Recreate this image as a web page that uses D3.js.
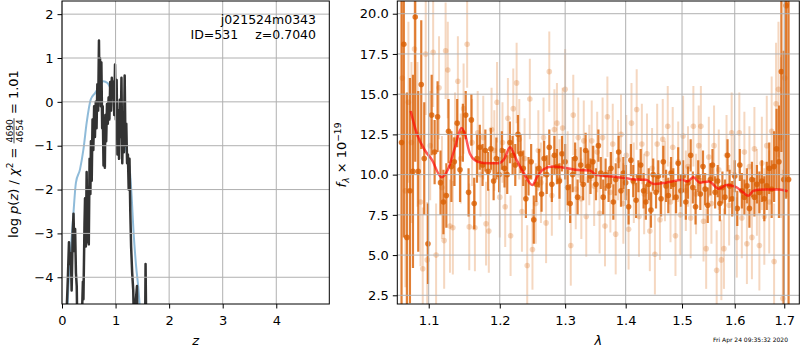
<!DOCTYPE html>
<html>
<head>
<meta charset="utf-8">
<script src="https://cdn.jsdelivr.net/npm/d3@7"></script>
<style>
  body { margin: 0; background: #fff; }
  text { font-family: "DejaVu Sans", sans-serif; }
</style>
</head>
<body>
<script>
// ---- left panel: p(z) ----
const zGrid = [0.08, 0.11, 0.13, 0.15, 0.165, 0.18, 0.20, 0.215, 0.23, 0.245, 0.26, 0.275, 0.29, 0.33, 0.37, 0.39, 0.40, 0.42, 0.43, 0.445,
  0.46, 0.475, 0.49, 0.50, 0.515, 0.53, 0.54, 0.555, 0.57, 0.585, 0.60, 0.615, 0.63, 0.645, 0.66, 0.675, 0.69, 0.70, 0.71, 0.725,
  0.735, 0.75, 0.76, 0.775, 0.785, 0.80, 0.81, 0.825, 0.84, 0.855, 0.87, 0.885, 0.90, 0.915, 0.93, 0.945, 0.96, 0.975, 0.99, 1.005,
  1.02, 1.035, 1.05, 1.065, 1.08, 1.095, 1.11, 1.125, 1.14, 1.155, 1.17, 1.185, 1.20, 1.215, 1.23, 1.245, 1.26, 1.275, 1.29, 1.31,
  1.33, 1.35, 1.38, 1.40, 1.41, 1.55, 1.56, 1.575];
const logpz = [-5.0, -4.0, -3.2, -3.7, -3.45, -4.3, -3.0, -2.55, -3.4, -2.9, -3.9, -4.2, -5.5, -5.5, -5.0, -4.1, -4.5, -2.8, -2.2, -3.3,
  -1.6, -3.2, -2.4, -3.25, -1.3, -2.1, -0.9, -1.8, -0.4, -1.1, -0.1, -0.8, 0.0, -0.6, 0.4, -0.2, 1.4, 0.3, 1.0, -0.1,
  0.9, -0.6, -0.1, -1.45, -0.5, -1.5, -0.3, -0.9, -0.05, -0.5, 0.1, -0.4, 0.45, -0.2, 0.55, 0.1, 0.45, -0.3, 0.85, -0.4,
  0.5, -1.2, -0.2, -1.3, 0.05, -0.8, 0.55, -1.4, -0.4, -1.15, 0.6, -1.0, -0.5, -1.4, -1.2, -2.0, -1.3, -2.5, -3.3, -3.9,
  -4.3, -5.5, -4.5, -4.2, -5.5, -5.5, -3.7, -5.5];
const zSmooth = [0.09, 0.12, 0.15, 0.18, 0.21, 0.26, 0.336, 0.40, 0.46, 0.536, 0.617, 0.70, 0.77, 0.85, 0.91, 0.97, 1.03, 1.115, 1.21, 1.27,
  1.30, 1.333, 1.383, 1.427, 1.47];
const logpSmooth = [-5.0, -4.2, -3.66, -3.1, -2.6, -1.84, -1.54, -1.085, -0.48, 0.05, 0.20, 0.355, 0.47, 0.43, 0.28, 0.015, -0.33, -0.71, -1.16, -1.62,
  -2.15, -2.91, -3.74, -4.27, -5.0];
const zTicks = [0, 1, 2, 3, 4];
const pzTicks = [-4, -3, -2, -1, 0, 1, 2];

// ---- right panel: spectrum ----
const lamDark = [1.064, 1.067, 1.071, 1.075, 1.079, 1.082, 1.086, 1.090, 1.094, 1.099, 1.104, 1.108, 1.112, 1.116, 1.120, 1.124, 1.127, 1.131, 1.135, 1.139,
  1.143, 1.147, 1.151, 1.155, 1.159, 1.163, 1.167, 1.171, 1.175, 1.179, 1.183, 1.187, 1.191, 1.195, 1.199, 1.203, 1.207, 1.211, 1.215, 1.219,
  1.223, 1.227, 1.231, 1.235, 1.239, 1.243, 1.247, 1.251, 1.255, 1.259, 1.263, 1.267, 1.271, 1.275, 1.279, 1.283, 1.287, 1.291, 1.295, 1.300,
  1.304, 1.308, 1.312, 1.316, 1.320, 1.325, 1.329, 1.333, 1.337, 1.341, 1.345, 1.350, 1.354, 1.358, 1.362, 1.366, 1.371, 1.375, 1.379, 1.383,
  1.388, 1.392, 1.396, 1.400, 1.405, 1.409, 1.413, 1.418, 1.422, 1.426, 1.431, 1.435, 1.440, 1.444, 1.448, 1.453, 1.457, 1.462, 1.466, 1.471,
  1.475, 1.480, 1.484, 1.489, 1.493, 1.498, 1.502, 1.507, 1.511, 1.516, 1.520, 1.525, 1.530, 1.534, 1.539, 1.543, 1.548, 1.553, 1.557, 1.562,
  1.567, 1.571, 1.576, 1.581, 1.586, 1.590, 1.595, 1.600, 1.605, 1.610, 1.614, 1.619, 1.624, 1.629, 1.634, 1.639, 1.644, 1.649, 1.654, 1.659,
  1.664, 1.669, 1.674, 1.679, 1.684, 1.689, 1.694, 1.699, 1.704, 1.709];
const fluxDark = [12.0, 18.1, 6.1, 9.0, 10.2, 19.8, 10.2, 15.6, 11.0, 5.7, 13.7, 11.4, 13.6, 9.5, 8.3, 8.7, 12.7, 10.5, 10.8, 13.2,
  10.3, 12.6, 13.7, 8.9, 13.4, 8.2, 11.0, 11.7, 10.6, 11.5, 10.2, 11.6, 9.6, 11.0, 10.0, 11.5, 10.4, 10.0, 12.0, 11.2,
  10.6, 12.5, 11.3, 10.4, 8.5, 9.9, 10.8, 7.2, 9.4, 10.4, 8.8, 11.0, 10.0, 11.7, 9.4, 11.2, 10.5, 9.6, 11.3, 10.8,
  9.2, 8.2, 10.0, 11.0, 8.6, 10.6, 9.4, 11.5, 10.5, 9.9, 10.8, 9.4, 11.8, 10.1, 8.6, 10.0, 9.3, 10.4, 8.3, 9.7,
  11.4, 9.0, 10.1, 9.5, 8.0, 10.9, 9.6, 8.4, 9.9, 10.6, 9.0, 8.3, 9.4, 7.8, 10.0, 8.9, 9.9, 8.5, 10.8, 9.3,
  8.7, 10.1, 9.4, 8.6, 10.7, 9.0, 9.9, 8.3, 9.5, 11.2, 9.2, 8.0, 9.9, 8.8, 10.5, 9.1, 8.1, 9.7, 10.6, 8.9,
  9.6, 8.2, 9.2, 8.6, 11.2, 9.3, 8.5, 9.9, 7.9, 10.6, 9.0, 8.6, 9.3, 7.9, 9.7, 8.6, 9.4, 8.9, 9.6, 8.5,
  9.3, 10.4, 9.1, 10.5, 11.6, 10.8, 16.4, 9.7, 20.5, 9.7];
const errDark = [15, 12, 9, 7, 6, 9, 5, 4, 3.5, 2.5, 2.5, 2, 2.2, 2, 2, 2, 2, 2.2, 1.5, 1.5,
  2, 1.8, 1.5, 1.5, 1.6, 1.6, 1.5, 1.4, 1.3, 1.3, 1.2, 1.3, 1.2, 1.3, 1.1, 1.2, 1.2, 1.2, 1.3, 1.2,
  1.3, 1.2, 1.2, 1.1, 1.2, 1.2, 1.1, 1.5, 1.1, 1.2, 1.1, 1.1, 1.2, 1.1, 1.1, 1.2, 1.1, 1.1, 1.1, 1.1,
  1.1, 1.2, 1.1, 1.0, 1.1, 1.1, 1.0, 1.1, 1.0, 1.1, 1.0, 1.0, 1.0, 1.0, 1.1, 1.0, 1.0, 1.0, 1.1, 1.0,
  1.0, 1.0, 1.0, 1.1, 1.1, 1.0, 1.0, 1.1, 1.0, 1.0, 1.1, 1.1, 1.0, 1.1, 1.0, 1.0, 1.0, 1.1, 1.0, 1.0,
  1.1, 1.0, 1.0, 1.0, 1.0, 1.0, 1.0, 1.1, 1.0, 1.0, 1.0, 1.1, 1.0, 1.0, 1.0, 1.0, 1.1, 1.0, 1.0, 1.0,
  1.0, 1.1, 1.0, 1.1, 1.0, 1.0, 1.1, 1.0, 1.1, 1.0, 1.1, 1.1, 1.1, 1.2, 1.1, 1.2, 1.2, 1.3, 1.3, 1.4,
  1.5, 1.6, 1.8, 2.2, 2.5, 3.5, 5, 8, 12, 14];

const lamLight = [1.065, 1.069, 1.073, 1.077, 1.081, 1.085, 1.089, 1.092, 1.096, 1.098, 1.102, 1.106, 1.110, 1.114, 1.118, 1.121, 1.123, 1.126, 1.129, 1.133,
  1.136, 1.140, 1.144, 1.148, 1.153, 1.156, 1.160, 1.164, 1.168, 1.172, 1.176, 1.180, 1.184, 1.188, 1.192, 1.196, 1.200, 1.204, 1.208, 1.212,
  1.216, 1.220, 1.225, 1.229, 1.233, 1.237, 1.241, 1.245, 1.249, 1.254, 1.258, 1.262, 1.266, 1.270, 1.275, 1.279, 1.283, 1.287, 1.291, 1.296,
  1.300, 1.304, 1.309, 1.313, 1.317, 1.321, 1.326, 1.330, 1.334, 1.339, 1.343, 1.347, 1.352, 1.356, 1.361, 1.365, 1.369, 1.374, 1.378, 1.383,
  1.387, 1.392, 1.396, 1.401, 1.405, 1.410, 1.414, 1.419, 1.423, 1.428, 1.432, 1.437, 1.442, 1.446, 1.451, 1.455, 1.460, 1.465, 1.469, 1.474,
  1.479, 1.483, 1.488, 1.493, 1.497, 1.502, 1.507, 1.511, 1.516, 1.521, 1.526, 1.531, 1.535, 1.540, 1.545, 1.550, 1.555, 1.560, 1.565, 1.569,
  1.574, 1.579, 1.584, 1.589, 1.594, 1.599, 1.604, 1.609, 1.614, 1.619, 1.624, 1.629, 1.634, 1.639, 1.644, 1.649, 1.654, 1.659, 1.664, 1.669,
  1.674, 1.679, 1.683, 1.688, 1.693, 1.697, 1.701, 1.705];
const fluxLight = [16.0, 9.0, 14.5, 12.0, 17.8, 12.5, 8.3, 4.15, 17.5, 4.7, 11.8, 17.6, 5.0, 15.4, 9.2, 5.9, 17.7, 16.5, 6.8, 6.7,
  12.2, 15.8, 11.0, 14.1, 18.1, 6.75, 12.0, 6.7, 12.6, 10.0, 12.3, 6.95, 6.5, 12.8, 11.5, 14.5, 8.6, 12.0, 8.0, 13.5,
  6.2, 14.1, 15.7, 12.2, 7.7, 11.0, 4.35, 14.7, 5.35, 8.2, 11.5, 9.5, 12.3, 7.0, 16.4, 8.7, 12.8, 13.2, 9.7, 12.9,
  15.3, 10.2, 5.6, 13.7, 9.1, 12.3, 8.5, 12.1, 7.4, 10.6, 12.1, 9.3, 11.4, 7.6, 12.3, 6.8, 13.6, 8.9, 11.9, 6.3,
  10.9, 12.5, 8.2, 11.2, 6.6, 13.2, 9.5, 14.05, 7.4, 11.9, 8.8, 11.3, 6.5, 10.4, 5.05, 11.9, 7.2, 12.2, 9.6, 13.0,
  8.3, 11.7, 6.2, 10.8, 7.5, 12.4, 9.0, 10.5, 7.3, 13.0, 8.8, 11.8, 13.0, 7.1, 5.4, 11.1, 8.2, 11.8, 4.05, 10.3,
  4.7, 5.4, 11.2, 8.1, 12.6, 10.0, 6.1, 12.6, 7.3, 11.4, 5.7, 10.5, 6.1, 11.6, 8.9, 5.6, 10.7, 7.4, 11.8, 8.3,
  12.7, 4.6, 14.4, 15.3, 12.3, 2.3, 16.0, 20.6];
const errLight = [6, 6, 5, 5, 5, 4.5, 4, 3.8, 3.8, 3.6, 3.4, 3.4, 3.2, 3.2, 3.2, 3.0, 3.0, 3.0, 2.9, 2.9,
  2.9, 2.8, 2.8, 2.8, 2.7, 2.7, 2.7, 2.7, 2.6, 2.6, 2.6, 2.6, 2.6, 2.6, 2.5, 2.5, 2.5, 2.5, 2.5, 2.5,
  2.5, 2.5, 2.5, 2.5, 2.5, 2.5, 2.5, 2.5, 2.5, 2.5, 2.5, 2.5, 2.5, 2.5, 2.5, 2.5, 2.5, 2.5, 2.5, 2.5,
  2.5, 2.5, 2.5, 2.5, 2.5, 2.5, 2.5, 2.5, 2.5, 2.5, 2.5, 2.5, 2.5, 2.5, 2.5, 2.5, 2.5, 2.5, 2.5, 2.5,
  2.5, 2.5, 2.5, 2.5, 2.5, 2.5, 2.5, 2.5, 2.5, 2.5, 2.5, 2.5, 2.5, 2.5, 2.5, 2.5, 2.5, 2.5, 2.5, 2.5,
  2.5, 2.5, 2.5, 2.5, 2.5, 2.5, 2.5, 2.5, 2.5, 2.5, 2.5, 2.5, 2.5, 2.5, 2.5, 2.5, 2.5, 2.5, 2.5, 2.5,
  2.5, 2.5, 2.5, 2.5, 2.5, 2.5, 2.5, 2.5, 2.5, 2.5, 2.5, 2.5, 2.6, 2.6, 2.7, 2.8, 2.9, 3.0, 3.1, 3.2,
  3.4, 3.6, 3.8, 4.2, 5, 8, 7, 12];

const lamModel = [1.076, 1.084, 1.095, 1.104, 1.1175, 1.126, 1.136, 1.145, 1.150, 1.157, 1.168, 1.184, 1.197, 1.207, 1.215, 1.225, 1.236, 1.249, 1.256, 1.265,
  1.280, 1.296, 1.322, 1.340, 1.351, 1.381, 1.411, 1.435, 1.450, 1.470, 1.488, 1.500, 1.510, 1.521, 1.533, 1.550, 1.569, 1.584, 1.602, 1.617,
  1.627, 1.637, 1.660, 1.690, 1.707];
const fluxModel = [13.95, 12.56, 11.5, 10.95, 9.83, 10.3, 11.7, 12.9, 12.5, 11.3, 10.8, 10.7, 10.7, 11.0, 11.7, 10.9, 10.07, 9.35, 9.85, 10.3,
  10.5, 10.45, 10.28, 10.25, 9.97, 9.87, 9.72, 9.68, 9.41, 9.5, 9.62, 9.68, 9.58, 9.83, 9.5, 9.58, 9.12, 9.35, 9.24, 8.88,
  8.68, 9.0, 9.07, 9.08, 8.97];
const lamTicks = [1.1, 1.2, 1.3, 1.4, 1.5, 1.6, 1.7];
const fluxTicks = [2.5, 5.0, 7.5, 10.0, 12.5, 15.0, 17.5, 20.0];

const objName = 'j021524m0343';
const objId = 'ID=531';
const objZ = 'z=0.7040';
const stamp = 'Fri Apr 24 09:35:32 2020';

const width = 800, height = 350, fs = 13;
const L = {left: 62, right: 329.3, top: 1, bottom: 304};
const R = {left: 397.3, right: 799.3, top: 1, bottom: 304};
const orange = '#d95f02';

const svg = d3.select('body').append('svg')
  .attr('width', width).attr('height', height);

const defs = svg.append('defs');
[['clipL', L], ['clipR', R]].forEach(([id, b]) => {
  defs.append('clipPath').attr('id', id).append('rect')
    .attr('x', b.left).attr('y', b.top)
    .attr('width', b.right - b.left).attr('height', b.bottom - b.top);
});

const xL = d3.scaleLinear().domain([0, 4.99]).range([L.left, L.right]);
const yL = d3.scaleLinear().domain([-4.61, 2.30]).range([L.bottom, L.top]);
const xR = d3.scaleLog().domain([1.0585, 1.7316]).range([R.left, R.right]);
const yR = d3.scaleLinear().domain([1.96, 20.79]).range([R.bottom, R.top]);

// ---------- left panel ----------
const gL = svg.append('g').attr('clip-path', 'url(#clipL)');

gL.append('path')
  .datum(d3.zip(zSmooth, logpSmooth))
  .attr('fill', 'none').attr('stroke', '#1f77b4').attr('stroke-opacity', 0.5)
  .attr('stroke-width', 2)
  .attr('d', d3.line().x(d => xL(d[0])).y(d => yL(d[1])).curve(d3.curveMonotoneX));

gL.append('path')
  .datum(d3.zip(zGrid, logpz))
  .attr('fill', 'none').attr('stroke', '#333').attr('stroke-width', 2.5)
  .attr('stroke-linejoin', 'round')
  .attr('d', d3.line().x(d => xL(d[0])).y(d => yL(d[1])));

// ---------- right panel ----------
const gR = svg.append('g').attr('clip-path', 'url(#clipR)');

function errorbars(lam, flux, err, alpha, lw) {
  const g = gR.append('g');
  const rows = lam.map((l, i) => ({l: l, f: flux[i], e: err[i]}));
  g.selectAll('line').data(rows).enter().append('line')
    .attr('x1', d => xR(d.l)).attr('x2', d => xR(d.l))
    .attr('y1', d => yR(d.f - d.e)).attr('y2', d => yR(d.f + d.e))
    .attr('stroke', orange).attr('stroke-opacity', alpha).attr('stroke-width', lw);
  g.selectAll('circle').data(rows).enter().append('circle')
    .attr('cx', d => xR(d.l)).attr('cy', d => yR(d.f)).attr('r', 2.8)
    .attr('fill', orange).attr('fill-opacity', alpha);
}
errorbars(lamLight, fluxLight, errLight, 0.25, 2);
errorbars(lamDark, fluxDark, errDark, 0.8, 2.2);

gR.append('path')
  .datum(d3.zip(lamModel, fluxModel))
  .attr('fill', 'none').attr('stroke', 'red').attr('stroke-opacity', 0.65)
  .attr('stroke-width', 2.5).attr('stroke-linejoin', 'round')
  .attr('d', d3.line().x(d => xR(d[0])).y(d => yR(d[1])).curve(d3.curveMonotoneX));

// ---------- grids, frames, axes ----------
function grid(b, xs, xt, ys, yt) {
  const g = svg.append('g').attr('stroke', '#b0b0b0').attr('stroke-width', 1);
  xt.forEach(t => g.append('line').attr('x1', xs(t)).attr('x2', xs(t)).attr('y1', b.top).attr('y2', b.bottom));
  yt.forEach(t => g.append('line').attr('x1', b.left).attr('x2', b.right).attr('y1', ys(t)).attr('y2', ys(t)));
}
grid(L, xL, zTicks, yL, pzTicks);
grid(R, xR, lamTicks, yR, fluxTicks);

function axes(b, xs, xt, xf, ys, yt, yf) {
  const ax = svg.append('g').attr('transform', `translate(0,${b.bottom})`)
    .call(d3.axisBottom(xs).tickValues(xt).tickFormat(xf).tickSize(4.5).tickPadding(7));
  const ay = svg.append('g').attr('transform', `translate(${b.left},0)`)
    .call(d3.axisLeft(ys).tickValues(yt).tickFormat(yf).tickSize(4.5).tickPadding(4));
  [ax, ay].forEach(a => {
    a.select('.domain').remove();
    a.selectAll('text').attr('font-size', fs).attr('font-family', 'DejaVu Sans').attr('fill', '#000');
    a.selectAll('line').attr('stroke', '#000').attr('stroke-width', 1);
  });
  svg.append('rect').attr('x', b.left).attr('y', b.top)
    .attr('width', b.right - b.left).attr('height', b.bottom - b.top)
    .attr('fill', 'none').attr('stroke', '#000').attr('stroke-width', 1);
}
const minus = s => s.replace('-', '\u2212');
axes(L, xL, zTicks, d => String(d), yL, pzTicks, d => minus(String(d)));
axes(R, xR, lamTicks, d3.format('.1f'), yR, fluxTicks, d3.format('.1f'));

// annotation
svg.append('text').attr('x', 316).attr('y', 24).attr('text-anchor', 'end')
  .attr('font-size', 12.5).text(objName);
const info = svg.append('text').attr('x', 316).attr('y', 39).attr('text-anchor', 'end')
  .attr('font-size', 12.5);
info.append('tspan').text(objId);
info.append('tspan').attr('dx', 17).text(objZ);

// x labels
svg.append('text').attr('x', (L.left + L.right) / 2).attr('y', 345).attr('text-anchor', 'middle')
  .attr('font-size', fs).attr('font-style', 'italic').text('z');
svg.append('text').attr('x', (R.left + R.right) / 2).attr('y', 345).attr('text-anchor', 'middle')
  .attr('font-size', fs).attr('font-style', 'italic').text('\u03bb');

svg.append('text').attr('x', 788).attr('y', 342).attr('text-anchor', 'end')
  .attr('font-size', 6).text(stamp);

// math-like rotated labels built from pieces
function mathLabel(cx, baseX, parts) {
  const g = svg.append('g').attr('transform', `translate(${baseX},${cx}) rotate(-90)`);
  let pos = 0;
  parts.forEach(p => {
    if (p.frac) {
      const n = g.append('text').attr('font-size', fs * 0.7).text(p.frac[0]);
      const d = g.append('text').attr('font-size', fs * 0.7).text(p.frac[1]);
      const w = Math.max(n.node().getComputedTextLength(), d.node().getComputedTextLength()) + 2;
      n.attr('x', pos + w / 2).attr('y', -5.2).attr('text-anchor', 'middle');
      d.attr('x', pos + w / 2).attr('y', 4.6).attr('text-anchor', 'middle');
      g.append('line').attr('x1', pos).attr('x2', pos + w).attr('y1', -4).attr('y2', -4)
        .attr('stroke', '#000').attr('stroke-width', 0.7);
      pos += w;
    } else {
      const t = g.append('text').attr('x', pos).attr('y', p.dy || 0)
        .attr('font-size', fs * (p.s || 1))
        .attr('font-style', p.i ? 'italic' : 'normal')
        .style('white-space', 'pre').text(p.t);
      pos += t.node().getComputedTextLength();
    }
  });
  g.selectAll('*').each(function() {
    const el = d3.select(this);
    if (this.tagName === 'line') {
      el.attr('x1', +el.attr('x1') - pos / 2).attr('x2', +el.attr('x2') - pos / 2);
    } else {
      el.attr('x', +el.attr('x') - pos / 2);
    }
  });
}

mathLabel(154, 18, [
  {t: 'log '}, {t: 'p', i: true}, {t: '('}, {t: 'z', i: true}, {t: ') / '},
  {t: '\u03c7', i: true}, {t: '2', s: 0.7, dy: -5}, {t: ' = '},
  {frac: ['4690', '4654']}, {t: ' = 1.01'}
]);

mathLabel(155, 346, [
  {t: 'f', i: true}, {t: '\u03bb', i: true, s: 0.7, dy: 3}, {t: ' \u00d7 10'},
  {t: '\u221219', s: 0.7, dy: -5}
]);
</script>
</body>
</html>
